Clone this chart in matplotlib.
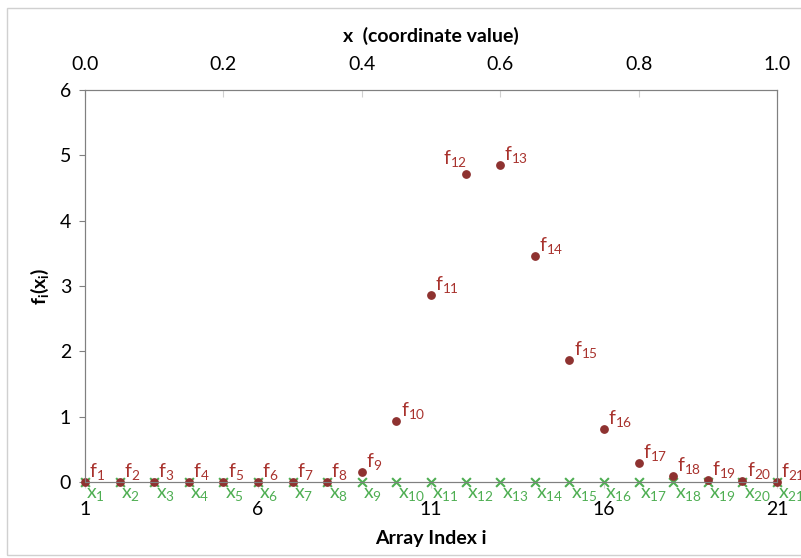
import matplotlib.pyplot as plt
from matplotlib.patches import Rectangle
import numpy as np

plt.rcParams['font.family'] = ['Lato', 'DejaVu Sans']
plt.rcParams['mathtext.default'] = 'regular'

# dados
idx = np.arange(1, 22)
f_vals = [0, 0, 0, 0, 0, 0, 0, 0, 0.15, 0.93, 2.86, 4.72, 4.85, 3.46,
          1.87, 0.81, 0.29, 0.09, 0.03, 0.01, 0]
x_vals = [0] * 21
bottom_ticks = [1, 6, 11, 16, 21]
top_ticks = [0.0, 0.2, 0.4, 0.6, 0.8, 1.0]

red = '#8E3230'
red_txt = '#A8322D'
green = '#4EAE52'
grey = '#808080'

fig = plt.figure(figsize=(8.01, 5.58), dpi=100)
ax = fig.add_axes([85/801, 1-482/558, (777-85)/801, (482-90)/558])

# moldura externa
fig.patches.append(Rectangle((7/801, 3/558), 1.0, 1-11/558, transform=fig.transFigure,
                             fill=False, edgecolor='#d0d0d0', lw=1))

ax.scatter(idx, x_vals, marker='x', color=green, s=40, lw=1.5, zorder=3, clip_on=False)
ax.scatter(idx, f_vals, marker='o', color=red, s=28, zorder=4, clip_on=False)

for i, fv in zip(idx, f_vals):
    if i == 12:
        # rotulo f12 fica a esquerda do ponto
        ax.annotate('f$_{%d}$' % i, (i, fv), xytext=(1, 3), textcoords='offset points',
                    ha='right', va='bottom', color=red_txt, fontsize=14, annotation_clip=False)
    else:
        ax.annotate('f$_{%d}$' % i, (i, fv), xytext=(3, 0), textcoords='offset points',
                    ha='left', va='bottom', color=red_txt, fontsize=14, annotation_clip=False)
    ax.annotate('x$_{%d}$' % i, (i, 0), xytext=(1, -3), textcoords='offset points',
                ha='left', va='top', color=green, fontsize=14, annotation_clip=False)

ax.set_xlim(1, 21)
ax.set_ylim(0, 6)
ax.set_xticks(bottom_ticks)
ax.set_yticks(range(7))
ax.tick_params(axis='x', direction='out', length=4, color='#d0d0d0', labelsize=14, pad=10)
ax.tick_params(axis='y', direction='out', length=4, color=grey, labelsize=14, pad=6)
for s in ax.spines.values():
    s.set_color(grey)
ax.set_xlabel('Array Index i', fontsize=14, fontweight='bold', labelpad=8)
ax.set_ylabel('f$_i$(x$_i$)', fontsize=14, fontweight='bold', labelpad=6)

ax2 = ax.twiny()
ax2.set_xlim(0, 1)
ax2.set_xticks(top_ticks)
ax2.set_xticklabels(['%.1f' % t for t in top_ticks])
ax2.tick_params(axis='x', direction='in', length=5, color='#d0d0d0', labelsize=14, pad=12)
for s in ax2.spines.values():
    s.set_color(grey)
ax2.set_xlabel('x  (coordinate value)', fontsize=14, fontweight='bold', labelpad=10)

fig.savefig('out.png', dpi=100)
